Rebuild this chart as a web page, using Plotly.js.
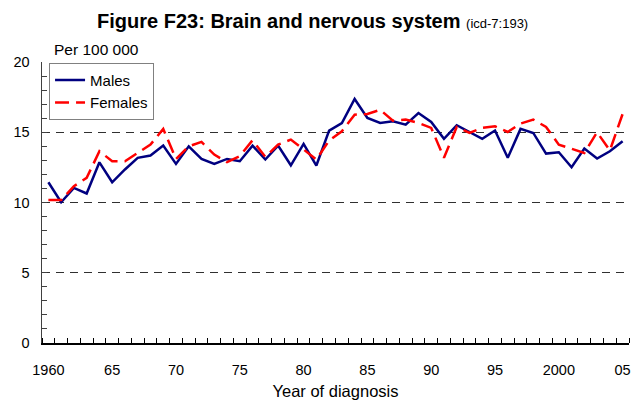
<!DOCTYPE html>
<html>
<head>
<meta charset="utf-8">
<script src="https://cdn.plot.ly/plotly-3.0.1.min.js"></script>
<style>html,body{margin:0;padding:0;background:#fff;}#chart{width:638px;height:401px;}</style>
</head>
<body>
<div id="chart"></div>
<script>
var years = [1960,1961,1962,1963,1964,1965,1966,1967,1968,1969,1970,1971,1972,1973,1974,1975,1976,1977,1978,1979,1980,1981,1982,1983,1984,1985,1986,1987,1988,1989,1990,1991,1992,1993,1994,1995,1996,1997,1998,1999,2000,2001,2002,2003,2004,2005];
var males = [11.44,10.02,11.04,10.64,12.86,11.44,12.35,13.18,13.34,14.05,12.75,14.0,13.1,12.75,13.1,12.94,14.05,13.06,14.05,12.65,14.17,12.63,15.12,15.66,17.37,16.02,15.66,15.78,15.54,16.37,15.73,14.53,15.5,15.02,14.53,15.12,13.18,15.24,14.95,13.48,13.58,12.51,13.84,13.13,13.65,14.36];
var females = [10.17,10.17,11.16,11.75,13.65,12.94,12.94,13.53,14.12,15.24,13.1,14.0,14.31,13.41,12.87,13.3,14.43,13.25,14.12,14.48,13.77,13.06,14.41,15.07,16.25,16.3,16.6,15.83,15.9,15.66,15.31,13.18,15.38,14.95,15.31,15.42,15.02,15.62,15.9,15.38,14.12,13.82,13.53,15.0,13.7,16.3];
var tickYears = [1960,1965,1970,1975,1980,1985,1990,1995,2000,2005];
var tickLabels = ["1960","65","70","75","80","85","90","95","2000","05"];
var yTicks = [0,5,10,15,20];

var font = "Liberation Sans, Arial, sans-serif";
var traces = [
  {x: years, y: males, name: "Males", type: "scatter", mode: "lines",
   line: {color: "#000080", width: 2.5}},
  {x: years, y: females, name: "Females", type: "scatter", mode: "lines",
   line: {color: "#ff0000", width: 2.5, dash: "14px,7px"}}
];
var layout = {
  width: 638, height: 401,
  margin: {l: 42, r: 9, t: 62, b: 58, pad: 0},
  paper_bgcolor: "#fff", plot_bgcolor: "#fff",
  font: {family: font, size: 14, color: "#000"},
  showlegend: true,
  title: {
    text: "<b>Figure F23: Brain and nervous system</b> <span style='font-size:13px'>(icd-7:193)</span>",
    font: {family: font, size: 20, color: "#000"},
    x: 0.49, xref: "container", xanchor: "center",
    y: 0.948, yref: "container", yanchor: "middle"
  },
  xaxis: {
    range: [1959.5, 2005.5],
    tickvals: tickYears, ticktext: tickLabels,
    ticks: "", showgrid: false, zeroline: false,
    showline: true, linecolor: "#000", linewidth: 1.5,
    ticklabelstandoff: 13,
    tickfont: {family: font, size: 14.5, color: "#000"},
    minor: {tick0: 1959.5, dtick: 1, ticks: "inside", ticklen: 5, tickcolor: "#000", tickwidth: 1, showgrid: false},
    title: {text: "Year of diagnosis", font: {family: font, size: 16.5, color: "#000"}, standoff: 8},
    fixedrange: true
  },
  yaxis: {
    range: [0, 20],
    tickvals: yTicks,
    ticks: "inside", ticklen: 5, tickcolor: "#404040", tickwidth: 1,
    showgrid: true, gridcolor: "#303030", gridwidth: 1, griddash: "8px,6px",
    zeroline: false,
    showline: true, linecolor: "#404040", linewidth: 1.5,
    ticklabelstandoff: 8,
    tickfont: {family: font, size: 14.5, color: "#000"},
    minor: {dtick: 1, ticks: "inside", ticklen: 5, tickcolor: "#404040", tickwidth: 1, showgrid: false},
    fixedrange: true
  },
  legend: {
    x: 0.012, xanchor: "left", y: 0.997, yanchor: "top",
    bgcolor: "#fff", bordercolor: "#808080", borderwidth: 1,
    font: {family: font, size: 15, color: "#000"},
    tracegroupgap: 0
  },
  annotations: [
    {text: "Per 100 000", xref: "paper", yref: "paper", x: 0.017, y: 1, xanchor: "left", yanchor: "bottom",
     yshift: 2, showarrow: false, font: {family: font, size: 15.5, color: "#000"}}
  ]
};
Plotly.newPlot("chart", traces, layout, {displayModeBar: false, staticPlot: true});
</script>
</body>
</html>
